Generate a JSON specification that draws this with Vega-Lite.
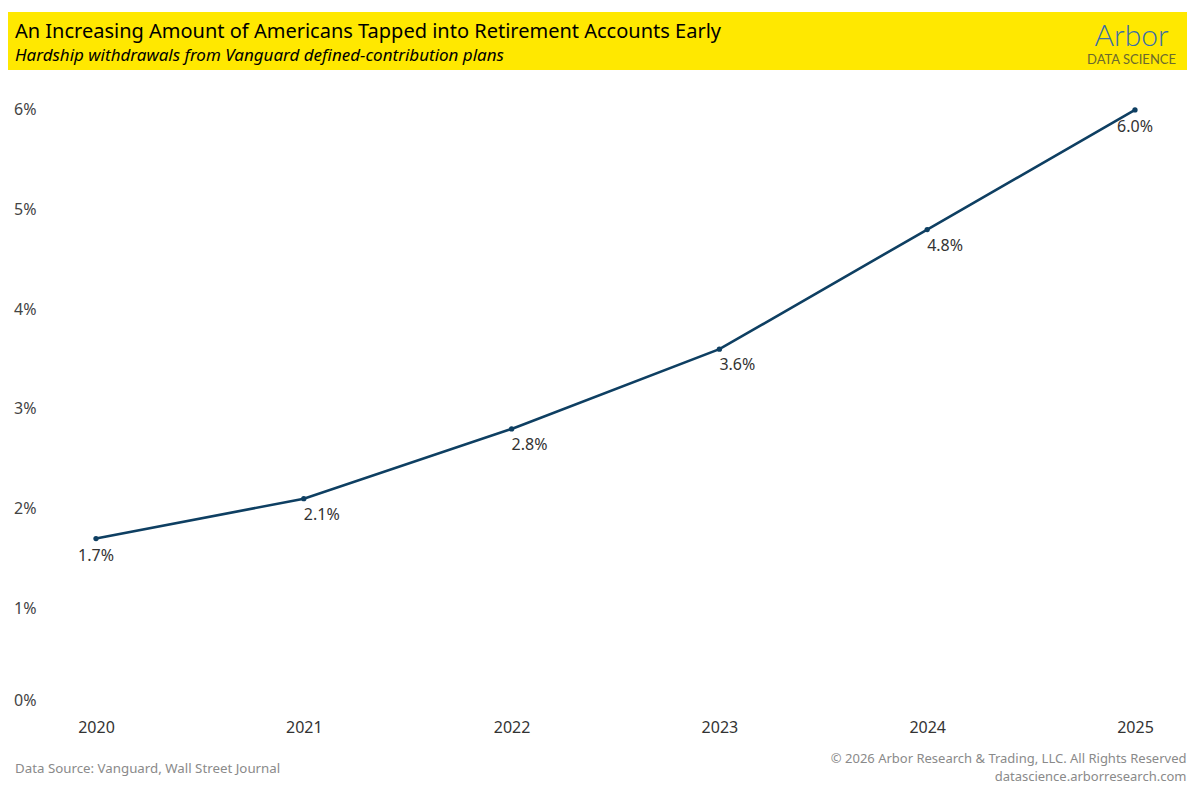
{
  "$schema": "https://vega.github.io/schema/vega-lite/v6.json",
  "background": "white",
  "padding": {"left": 8, "top": 12, "right": 12, "bottom": 0},
  "config": {"view": {"stroke": null}, "font": "Noto Sans"},
  "datasets": {
    "withdrawals": [
      {"year": "2020", "share": 0.017},
      {"year": "2021", "share": 0.021},
      {"year": "2022", "share": 0.028},
      {"year": "2023", "share": 0.036},
      {"year": "2024", "share": 0.048},
      {"year": "2025", "share": 0.060}
    ]
  },
  "columns": 1,
  "align": "none",
  "spacing": 20,
  "concat": [
    {
      "spacing": 0,
      "hconcat": [
        {
          "width": 1040,
          "height": 58,
          "view": {"fill": "#FFE800", "stroke": null},
          "title": {
            "text": "An Increasing Amount of Americans Tapped into Retirement Accounts Early",
            "subtitle": "Hardship withdrawals from Vanguard defined-contribution plans",
            "anchor": "start",
            "orient": "top",
            "offset": -52,
            "dx": 7,
            "fontSize": 20,
            "fontWeight": "normal",
            "color": "#000000",
            "subtitleFontSize": 17,
            "subtitleFontStyle": "italic",
            "subtitleColor": "#000000",
            "subtitlePadding": 6
          },
          "data": {"values": [{}]},
          "mark": {"type": "text"},
          "encoding": {"text": {"value": ""}}
        },
        {
          "width": 139,
          "height": 58,
          "view": {"fill": "#FFE800", "stroke": null},
          "title": {
            "text": "Arbor",
            "subtitle": "DATA SCIENCE",
            "anchor": "middle",
            "orient": "top",
            "offset": -55,
            "dx": 14,
            "font": "Lato",
            "fontSize": 30,
            "fontWeight": 300,
            "color": "#3A6EA8",
            "subtitleFont": "Lato",
            "subtitleFontSize": 13,
            "subtitleColor": "#6B6A2E",
            "subtitlePadding": 2
          },
          "data": {"values": [{}]},
          "mark": {"type": "text"},
          "encoding": {"text": {"value": ""}}
        }
      ]
    },
    {
      "width": 1178,
      "height": 618,
      "data": {"name": "withdrawals"},
      "title": {
        "text": "Data Source: Vanguard, Wall Street Journal",
        "orient": "bottom",
        "anchor": "start",
        "offset": -21,
        "dx": 7,
        "fontSize": 13.3,
        "fontWeight": "normal",
        "color": "#8A8A8A"
      },
      "encoding": {
        "x": {
          "field": "year",
          "type": "ordinal",
          "scale": {"type": "point", "padding": 0.3345, "align": 0.633},
          "axis": {
            "labelAngle": 0,
            "domain": false,
            "ticks": false,
            "labelFontSize": 16,
            "labelColor": "#333333",
            "labelPadding": 11,
            "title": ["© 2026 Arbor Research & Trading, LLC. All Rights Reserved", "datascience.arborresearch.com"],
            "titleAnchor": "end",
            "titleAlign": "right",
            "titleFontSize": 13,
            "titleFontWeight": "normal",
            "titleColor": "#8A8A8A",
            "titlePadding": 17,
            "titleLineHeight": 18
          }
        },
        "y": {
          "field": "share",
          "type": "quantitative",
          "scale": {"domain": [0, 0.062]},
          "axis": {
            "title": null,
            "format": ".0%",
            "values": [0, 0.01, 0.02, 0.03, 0.04, 0.05, 0.06],
            "grid": false,
            "domain": false,
            "ticks": false,
            "labelFontSize": 16,
            "labelColor": "#444444",
            "labelPadding": 9,
            "labelFlush": true,
            "offset": -37
          }
        }
      },
      "layer": [
        {"mark": {"type": "line", "color": "#0E3F62", "strokeWidth": 2.6}},
        {"mark": {"type": "point", "filled": true, "color": "#0E3F62", "size": 28, "opacity": 1}},
        {
          "transform": [{"filter": {"field": "year", "oneOf": ["2021", "2022", "2023", "2024"]}}],
          "mark": {"type": "text", "align": "left", "baseline": "top", "dy": 8, "fontSize": 16, "color": "#333333"},
          "encoding": {"text": {"field": "share", "type": "quantitative", "format": ".1%"}}
        },
        {
          "transform": [{"filter": {"field": "year", "oneOf": ["2020", "2025"]}}],
          "mark": {"type": "text", "align": "center", "baseline": "top", "dy": 9, "fontSize": 16, "color": "#333333"},
          "encoding": {"text": {"field": "share", "type": "quantitative", "format": ".1%"}}
        }
      ]
    }
  ]
}
